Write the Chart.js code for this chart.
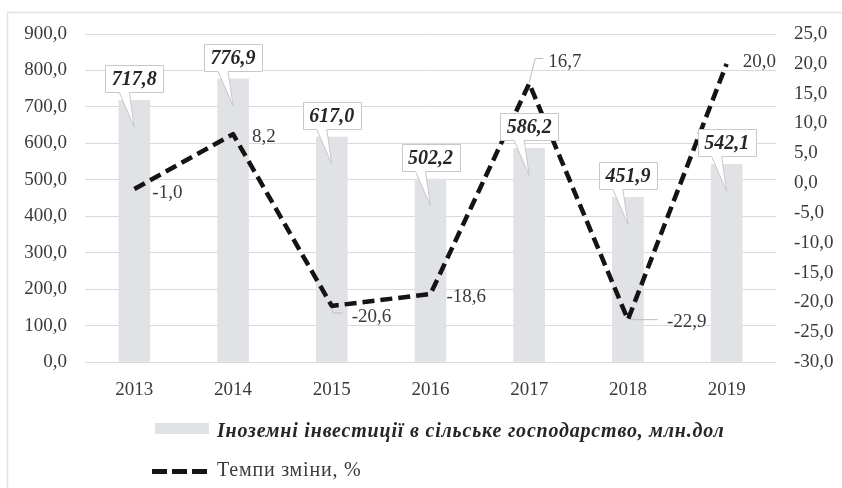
<!DOCTYPE html>
<html>
<head>
<meta charset="utf-8">
<script src="https://cdn.jsdelivr.net/npm/chart.js@4.4.1/dist/chart.umd.min.js"></script>
<style>
  html, body { margin: 0; padding: 0; background: #ffffff; }
  #wrap { width: 842px; height: 488px; position: relative; }
</style>
</head>
<body>
<div id="wrap"><canvas id="c" width="842" height="488"></canvas></div>
<script>
// ---- data ----
const years = ['2013', '2014', '2015', '2016', '2017', '2018', '2019'];
const investments = [717.8, 776.9, 617.0, 502.2, 586.2, 451.9, 542.1];
const changeRates = [-1.0, 8.2, -20.6, -18.6, 16.7, -22.9, 20.0];
const leftAxisTicks = [0, 100, 200, 300, 400, 500, 600, 700, 800, 900];
const rightAxisTicks = [-30, -25, -20, -15, -10, -5, 0, 5, 10, 15, 20, 25];
const seriesNames = ['Іноземні інвестиції в сільське господарство, млн.дол', 'Темпи зміни, %'];

// ---- style ----
const FONT = '"Liberation Serif", "DejaVu Serif", serif';
const BAR_COLOR = '#e0e2e5';
const LINE_COLOR = '#141414';
const TEXT_COLOR = '#3a3a3a';
const fmt = v => v.toFixed(1).replace('.', ',');

// label placement for the line values (pixel offsets from the point)
const lineLabelPlacement = [
  { dx: 18, dy: 4 },
  { dx: 19, dy: 3 },
  { dx: 20, dy: 11, leader: [[0, 2], [1, 7], [11, 7]] },
  { dx: 16, dy: 3 },
  { dx: 19, dy: -21, leader: [[0, -1], [6, -25], [14, -25]] },
  { dx: 39, dy: 2, leader: [[3, 0], [30, 0]] },
  { dx: 16, dy: -2 }
];

const framePlugin = {
  id: 'frame',
  beforeDraw(chart) {
    const ctx = chart.ctx;
    ctx.save();
    ctx.fillStyle = '#ffffff';
    ctx.fillRect(0, 0, chart.width, chart.height);
    ctx.strokeStyle = '#e2e2e2';
    ctx.lineWidth = 1.5;
    ctx.beginPath();
    ctx.moveTo(7.5, chart.height);
    ctx.lineTo(7.5, 12.5);
    ctx.lineTo(chart.width, 12.5);
    ctx.stroke();
    ctx.restore();
  }
};

const labelPlugin = {
  id: 'valueLabels',
  afterDatasetsDraw(chart) {
    const ctx = chart.ctx;
    ctx.save();
    // line labels
    const lineMeta = chart.getDatasetMeta(1);
    ctx.font = '19px ' + FONT;
    ctx.fillStyle = TEXT_COLOR;
    ctx.textAlign = 'left';
    ctx.textBaseline = 'middle';
    lineMeta.data.forEach((pt, i) => {
      const p = lineLabelPlacement[i];
      if (p.leader) {
        ctx.strokeStyle = '#bdbdbd';
        ctx.lineWidth = 1;
        ctx.beginPath();
        p.leader.forEach((q, k) => {
          const x = pt.x + q[0], y = pt.y + q[1];
          if (k === 0) ctx.moveTo(x, y); else ctx.lineTo(x, y);
        });
        ctx.stroke();
      }
      ctx.fillText(fmt(chart.data.datasets[1].data[i]), pt.x + p.dx, pt.y + p.dy);
    });

    // bar callouts
    const barMeta = chart.getDatasetMeta(0);
    ctx.font = 'italic bold 20px ' + FONT;
    ctx.textAlign = 'center';
    barMeta.data.forEach((bar, i) => {
      const txt = fmt(chart.data.datasets[0].data[i]);
      const tw = ctx.measureText(txt).width;
      const w = Math.round(tw + 13), h = 27;
      const cx = bar.x;
      const left = Math.round(cx - w / 2) + 0.5;
      const right = left + w;
      const bottom = Math.round(bar.y - 8) + 0.5;
      const top = bottom - h;
      const tailL = cx - 15, tailR = cx - 5;
      const tipX = cx, tipY = bar.y + 27;
      ctx.beginPath();
      ctx.moveTo(left, top);
      ctx.lineTo(right, top);
      ctx.lineTo(right, bottom);
      ctx.lineTo(tailR, bottom);
      ctx.lineTo(tipX, tipY);
      ctx.lineTo(tailL, bottom);
      ctx.lineTo(left, bottom);
      ctx.closePath();
      ctx.fillStyle = '#ffffff';
      ctx.fill();
      ctx.strokeStyle = '#c8c8c8';
      ctx.lineWidth = 1;
      ctx.stroke();
      ctx.fillStyle = '#262626';
      ctx.fillText(txt, cx, (top + bottom) / 2 + 1);
    });
    ctx.restore();
  }
};

const legendPlugin = {
  id: 'customLegend',
  afterDraw(chart) {
    const ctx = chart.ctx;
    ctx.save();
    ctx.fillStyle = BAR_COLOR;
    ctx.fillRect(155, 423, 54, 11);
    ctx.fillStyle = '#262626';
    ctx.textAlign = 'left';
    ctx.textBaseline = 'middle';
    ctx.font = 'italic bold 20px ' + FONT;
    ctx.letterSpacing = '0.8px';
    ctx.fillText(seriesNames[0], 217, 432);
    ctx.strokeStyle = LINE_COLOR;
    ctx.lineWidth = 5;
    ctx.setLineDash([15, 5]);
    ctx.beginPath();
    ctx.moveTo(152, 471.5);
    ctx.lineTo(207, 471.5);
    ctx.stroke();
    ctx.setLineDash([]);
    ctx.fillStyle = TEXT_COLOR;
    ctx.font = '20px ' + FONT;
    ctx.fillText(seriesNames[1], 217, 471);
    ctx.restore();
  }
};

new Chart(document.getElementById('c'), {
  data: {
    labels: years,
    datasets: [
      {
        type: 'bar',
        label: seriesNames[0],
        data: investments,
        backgroundColor: BAR_COLOR,
        barThickness: 31,
        yAxisID: 'y',
        order: 2
      },
      {
        type: 'line',
        label: seriesNames[1],
        data: changeRates,
        borderColor: LINE_COLOR,
        borderWidth: 4.5,
        borderDash: [12, 6],
        borderCapStyle: 'butt',
        borderJoinStyle: 'round',
        pointRadius: 0,
        pointHoverRadius: 0,
        tension: 0,
        fill: false,
        yAxisID: 'y1',
        order: 1
      }
    ]
  },
  options: {
    responsive: false,
    animation: false,
    devicePixelRatio: 1,
    layout: { padding: { top: 34, left: 0, right: 0, bottom: 0 } },
    plugins: {
      legend: { display: false },
      tooltip: { enabled: false }
    },
    scales: {
      x: {
        offset: true,
        grid: { display: false, drawTicks: false },
        border: { display: false },
        ticks: { color: TEXT_COLOR, font: { family: FONT, size: 19 }, padding: 17 },
        afterFit(s) { s.height = 126; }
      },
      y: {
        position: 'left',
        min: leftAxisTicks[0],
        max: leftAxisTicks[leftAxisTicks.length - 1],
        afterBuildTicks(s) { s.ticks = leftAxisTicks.map(v => ({ value: v })); },
        grid: { color: '#dadada', lineWidth: 1, drawTicks: false },
        border: { display: false },
        ticks: {
          color: TEXT_COLOR, font: { family: FONT, size: 19 }, padding: 18,
          callback: v => fmt(v)
        },
        afterFit(s) { s.width = 85; }
      },
      y1: {
        position: 'right',
        min: rightAxisTicks[0],
        max: rightAxisTicks[rightAxisTicks.length - 1],
        afterBuildTicks(s) { s.ticks = rightAxisTicks.map(v => ({ value: v })); },
        grid: { display: false, drawTicks: false },
        border: { display: false },
        ticks: {
          color: TEXT_COLOR, font: { family: FONT, size: 19 }, padding: 18,
          callback: v => fmt(v)
        },
        afterFit(s) { s.width = 66; }
      }
    }
  },
  plugins: [framePlugin, labelPlugin, legendPlugin]
});
</script>
</body>
</html>
